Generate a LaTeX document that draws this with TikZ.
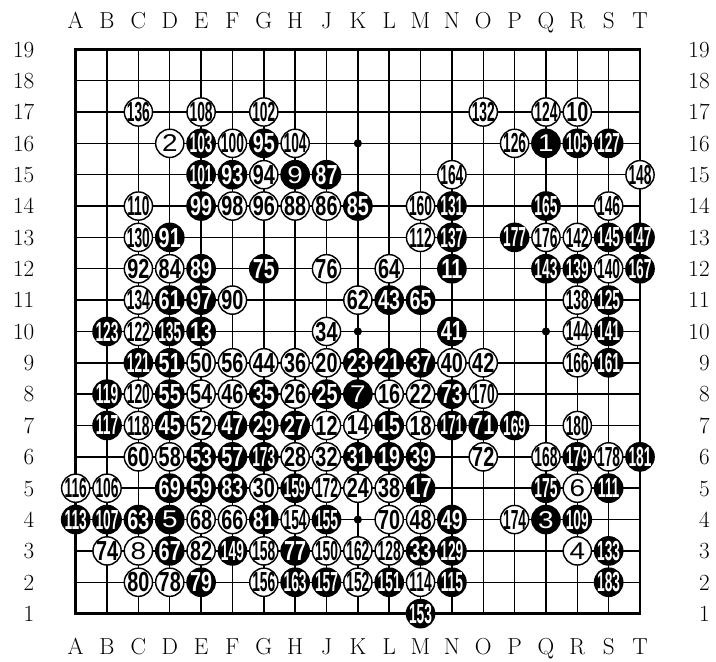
\documentclass[tikz,border=0pt]{standalone}
\usepackage{fontspec}
\usepackage{graphicx}

\newfontfamily\pierrefont{Liberation Sans}

% numero d'une pierre, plus etroit s'il a plusieurs chiffres
\newcommand{\numpierre}[1]{%
\makebox[0pt]{\raisebox{-.5\height}[0pt][0pt]{\pierrefont
\ifnum#1<10 \scalebox{1.15}[1]{\fontsize{22}{22}\selectfont#1}%
\else\ifnum#1<100 \scalebox{0.72}[1]{\bfseries#1}%
\else\scalebox{0.5}[1]{\bfseries#1}\fi\fi}}}

\tikzset{
pierre/.style={circle,line width=1.3pt,draw=black,
minimum size=0.9cm,inner sep=0pt,
font=\fontsize{25}{25}\selectfont},
noire/.style={pierre,fill=black,text=white},
blanche/.style={pierre,fill=white,text=black},
etiquette/.style={inner sep=0pt,text height=0.5cm,text depth=0pt,
font=\fontsize{21}{21}\selectfont},
}

\begin{document}
\begin{tikzpicture}

\useasboundingbox
(-1.415,-0.512)
rectangle
(21.424,20.573);

% Grille
\foreach \i in {2,...,18}
{
\draw[line width=1.3pt]
(\i,1)
--
(\i,19);
\draw[line width=1.3pt]
(1,\i)
--
(19,\i);
}

\draw[line width=2.6pt]
(1,1)
rectangle
(19,19);

% Hoshi
\foreach \x in {4,10,16}
\foreach \y in {4,10,16}
{
\fill
(\x,\y)
circle (0.13);
}

% Coordonnees
\foreach \l [count=\i] in {A,B,C,D,E,F,G,H,J,K,L,M,N,O,P,Q,R,S,T}
{
\node[etiquette] (haut\l)
at (\i,19.90)
{\l};
\node[etiquette] (bas\l)
at (\i,-0.062)
{\l};
}

\foreach \r in {1,...,19}
{
\node[etiquette,anchor=east] (gauche\r)
at (-0.314,\r)
{\r};
\node[etiquette,anchor=east] (droite\r)
at (21.23,\r)
{\r};
}

% Pierres noires
\foreach \x/\y/\n in {
5/16/103,7/16/95,16/16/1,17/16/105,18/16/127,
5/15/101,6/15/93,8/15/9,9/15/87,
5/14/99,10/14/85,13/14/131,16/14/165,
4/13/91,13/13/137,15/13/177,18/13/145,19/13/147,
5/12/89,7/12/75,13/12/11,16/12/143,17/12/139,19/12/167,
4/11/61,5/11/97,11/11/43,12/11/65,18/11/125,
2/10/123,4/10/135,5/10/13,13/10/41,18/10/141,
3/9/121,4/9/51,10/9/23,11/9/21,12/9/37,18/9/161,
2/8/119,4/8/55,7/8/35,9/8/25,10/8/7,13/8/73,
2/7/117,4/7/45,6/7/47,7/7/29,8/7/27,11/7/15,13/7/171,14/7/71,15/7/169,
5/6/53,6/6/57,7/6/173,10/6/31,11/6/19,12/6/39,17/6/179,19/6/181,
4/5/69,5/5/59,6/5/83,8/5/159,12/5/17,16/5/175,18/5/111,
1/4/113,2/4/107,3/4/63,4/4/5,7/4/81,9/4/155,13/4/49,16/4/3,17/4/109,
4/3/67,6/3/149,8/3/77,12/3/33,13/3/129,18/3/133,
5/2/79,8/2/163,9/2/157,11/2/151,13/2/115,18/2/183,
12/1/153}
{
\node[noire] (p\n)
at (\x,\y)
{\numpierre{\n}};
}

% Pierres blanches
\foreach \x/\y/\n in {
3/17/136,5/17/108,7/17/102,14/17/132,16/17/124,17/17/10,
4/16/2,6/16/100,8/16/104,15/16/126,
7/15/94,13/15/164,19/15/148,
3/14/110,6/14/98,7/14/96,8/14/88,9/14/86,12/14/160,18/14/146,
3/13/130,12/13/112,16/13/176,17/13/142,
3/12/92,4/12/84,9/12/76,11/12/64,18/12/140,
3/11/134,6/11/90,10/11/62,17/11/138,
3/10/122,9/10/34,17/10/144,
5/9/50,6/9/56,7/9/44,8/9/36,9/9/20,13/9/40,14/9/42,17/9/166,
3/8/120,5/8/54,6/8/46,8/8/26,11/8/16,12/8/22,14/8/170,
3/7/118,5/7/52,9/7/12,10/7/14,12/7/18,17/7/180,
3/6/60,4/6/58,8/6/28,9/6/32,14/6/72,16/6/168,18/6/178,
1/5/116,2/5/106,7/5/30,9/5/172,10/5/24,11/5/38,17/5/6,
5/4/68,6/4/66,8/4/154,11/4/70,12/4/48,15/4/174,
2/3/74,3/3/8,5/3/82,7/3/158,9/3/150,10/3/162,11/3/128,17/3/4,
3/2/80,4/2/78,7/2/156,10/2/152,12/2/114}
{
\node[blanche] (p\n)
at (\x,\y)
{\numpierre{\n}};
}

\end{tikzpicture}
\end{document}
